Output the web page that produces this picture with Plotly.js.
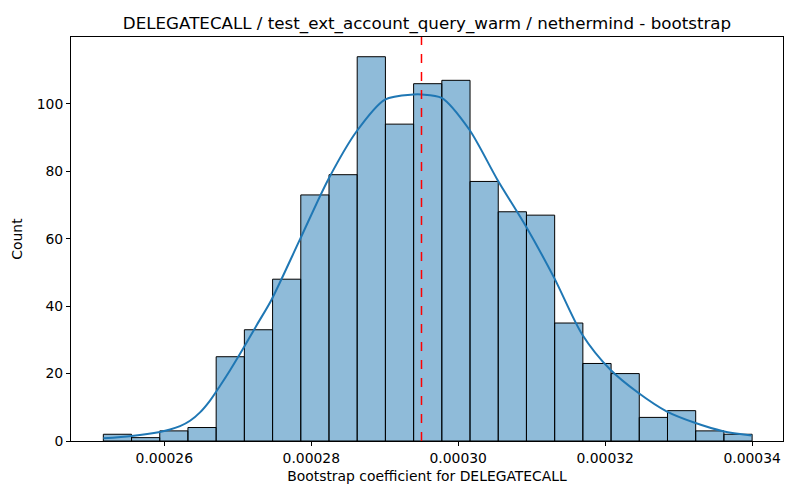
<!DOCTYPE html>
<html>
<head>
<meta charset="utf-8">
<script src="https://cdn.plot.ly/plotly-3.0.1.min.js"></script>
<style>
  html, body { margin: 0; padding: 0; background: #fff; }
  #chart { width: 800px; height: 500px; }
</style>
</head>
<body>
<div id="chart"></div>
<script>
// histogram: 23 bins, counts
const binStart = 0.0002517;
const binSize = 0.000003839;
const counts = [2, 1, 3, 4, 25, 33, 48, 73, 79, 114, 94, 106, 107, 77, 68, 67, 35, 23, 20, 7, 9, 3, 2];

// kde curve
const kdeX = [
  0.0002517, 0.00025556, 0.00025941, 0.00026078, 0.00026214, 0.0002635,
  0.00026486, 0.00026622, 0.00026759, 0.00026895, 0.00027075, 0.00027261,
  0.00027461, 0.00027846, 0.00028231, 0.00028618, 0.00029003, 0.00029388,
  0.00029502, 0.00029774, 0.0003015, 0.00030531, 0.00030921, 0.00031306,
  0.00031687, 0.00032068, 0.00032449, 0.00032835, 0.0003322, 0.00033605,
  0.00033992,
];
const kdeY = [
  0.8, 1.5, 2.7, 3.4, 4.4, 6.0,
  8.5, 12.0, 16.4, 21.0, 27.5, 34.5,
  42.0, 59.8, 77.6, 91.9, 101.3, 102.8,
  102.8, 101.8, 92.4, 77.6, 63.7, 48.4,
  31.6, 21.2, 14.3, 8.8, 5.4, 2.9,
  1.6,
];

const meanValue = 0.000295;
const xTicks = [0.00026, 0.00028, 0.00030, 0.00032, 0.00034];
const yTicks = [0, 20, 40, 60, 80, 100];

const centers = counts.map((c, i) => binStart + binSize * (i + 0.5));

const bars = {
  type: 'bar',
  x: centers,
  y: counts,
  width: binSize,
  marker: {
    color: 'rgba(31,119,180,0.5)',
    line: { color: '#000', width: 1 },
  },
  hoverinfo: 'x+y',
  showlegend: false,
};

const kde = {
  type: 'scatter',
  mode: 'lines',
  x: kdeX,
  y: kdeY,
  line: { color: '#1f77b4', width: 2, shape: 'spline', smoothing: 0.8 },
  showlegend: false,
};

const font = { family: 'DejaVu Sans, sans-serif', color: '#000' };

Plotly.newPlot('chart', [bars, kde], {
  width: 800,
  height: 500,
  margin: { l: 71, r: 17, t: 37, b: 59 },
  paper_bgcolor: '#fff',
  plot_bgcolor: '#fff',
  bargap: 0,
  font: font,
  title: {
    text: 'DELEGATECALL / test_ext_account_query_warm / nethermind - bootstrap',
    font: { family: font.family, size: 16.7, color: '#000' },
    xref: 'paper',
    x: 0.5,
    xanchor: 'center',
    yref: 'container',
    y: 0.954,
    yanchor: 'middle',
  },
  xaxis: {
    range: [0.0002473, 0.0003442],
    tickvals: xTicks,
    ticktext: xTicks.map(v => v.toFixed(5)),
    ticks: 'outside',
    ticklen: 4,
    tickcolor: '#000',
    tickfont: { size: 13.9, color: '#000' },
    showline: true,
    linecolor: '#000',
    linewidth: 1,
    mirror: true,
    showgrid: false,
    zeroline: false,
    title: { text: 'Bootstrap coefficient for DELEGATECALL', font: { size: 13.9, color: '#000' }, standoff: 6 },
  },
  yaxis: {
    range: [0, 119.85],
    tickvals: yTicks,
    ticks: 'outside',
    ticklen: 4,
    tickcolor: '#000',
    tickfont: { size: 13.9, color: '#000' },
    showline: true,
    linecolor: '#000',
    linewidth: 1,
    mirror: true,
    showgrid: false,
    zeroline: false,
    title: { text: 'Count', font: { size: 13.9, color: '#000' }, standoff: 10 },
  },
  shapes: [
    {
      type: 'line',
      layer: 'above',
      xref: 'x',
      yref: 'paper',
      x0: meanValue,
      x1: meanValue,
      y0: 0,
      y1: 1,
      line: { color: 'red', width: 1.5, dash: 'dash' },
    },
  ],
}, { displayModeBar: false, staticPlot: true });
</script>
</body>
</html>
